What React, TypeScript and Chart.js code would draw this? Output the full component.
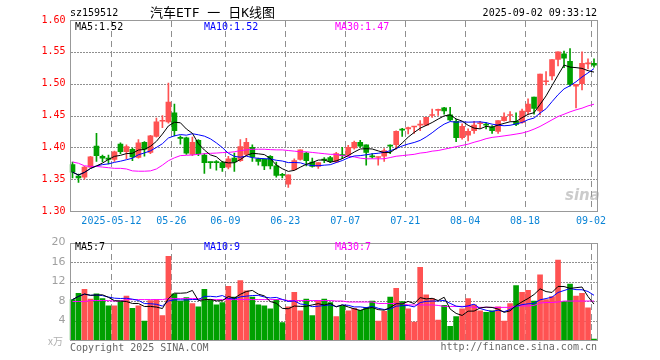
import React, { useEffect, useRef } from 'react';
import { Chart, registerables } from 'chart.js';

Chart.register(...registerables);

// ---------- DATA ----------
const dates = [
  '2025-04-28','2025-04-29','2025-04-30','2025-05-06','2025-05-07','2025-05-08','2025-05-09',
  '2025-05-12','2025-05-13','2025-05-14','2025-05-15','2025-05-16',
  '2025-05-19','2025-05-20','2025-05-21','2025-05-22','2025-05-23',
  '2025-05-26','2025-05-27','2025-05-28','2025-05-29','2025-05-30',
  '2025-06-03','2025-06-04','2025-06-05','2025-06-06',
  '2025-06-09','2025-06-10','2025-06-11','2025-06-12','2025-06-13',
  '2025-06-16','2025-06-17','2025-06-18','2025-06-19','2025-06-20',
  '2025-06-23','2025-06-24','2025-06-25','2025-06-26','2025-06-27',
  '2025-06-30','2025-07-01','2025-07-02','2025-07-03','2025-07-04',
  '2025-07-07','2025-07-08','2025-07-09','2025-07-10','2025-07-11',
  '2025-07-14','2025-07-15','2025-07-16','2025-07-17','2025-07-18',
  '2025-07-21','2025-07-22','2025-07-23','2025-07-24','2025-07-25',
  '2025-07-28','2025-07-29','2025-07-30','2025-07-31','2025-08-01',
  '2025-08-04','2025-08-05','2025-08-06','2025-08-07','2025-08-08',
  '2025-08-11','2025-08-12','2025-08-13','2025-08-14','2025-08-15',
  '2025-08-18','2025-08-19','2025-08-20','2025-08-21','2025-08-22',
  '2025-08-25','2025-08-26','2025-08-27','2025-08-28','2025-08-29',
  '2025-09-01','2025-09-02',
];

const opens = [
  1.373,1.355,1.353,1.369,1.402,1.386,1.383,1.381,1.405,1.393,
  1.397,1.384,1.408,1.392,1.417,1.441,1.440,1.454,1.415,1.415,
  1.389,1.411,1.388,1.377,1.377,1.376,1.369,1.383,1.379,1.389,
  1.400,1.382,1.381,1.386,1.371,1.357,1.342,1.365,1.381,1.391,
  1.377,1.370,1.381,1.384,1.377,1.388,1.388,1.399,1.408,1.404,
  1.386,1.384,1.386,1.403,1.404,1.428,1.429,1.432,1.435,1.435,
  1.450,1.458,1.462,1.451,1.441,1.415,1.419,1.426,1.437,1.435,
  1.432,1.425,1.442,1.450,1.441,1.439,1.456,1.479,1.457,1.503,
  1.512,1.538,1.547,1.535,1.496,1.500,1.531,1.532,
];
const highs = [
  1.377,1.358,1.370,1.386,1.422,1.388,1.388,1.394,1.407,1.404,
  1.399,1.412,1.409,1.419,1.446,1.450,1.501,1.468,1.418,1.416,
  1.416,1.412,1.390,1.377,1.379,1.378,1.386,1.391,1.412,1.414,
  1.404,1.383,1.382,1.387,1.377,1.359,1.357,1.382,1.396,1.392,
  1.383,1.376,1.384,1.386,1.392,1.400,1.403,1.410,1.411,1.404,
  1.390,1.385,1.398,1.404,1.426,1.430,1.432,1.433,1.442,1.447,
  1.460,1.460,1.463,1.463,1.444,1.437,1.429,1.441,1.441,1.439,
  1.434,1.442,1.454,1.456,1.454,1.460,1.476,1.479,1.515,1.519,
  1.538,1.550,1.551,1.555,1.499,1.550,1.539,1.539,
];
const lows = [
  1.352,1.345,1.350,1.368,1.378,1.377,1.374,1.378,1.390,1.382,
  1.379,1.383,1.386,1.390,1.416,1.431,1.438,1.418,1.405,1.389,
  1.387,1.387,1.359,1.367,1.364,1.362,1.366,1.362,1.378,1.387,
  1.378,1.372,1.365,1.366,1.353,1.352,1.337,1.364,1.380,1.371,
  1.369,1.367,1.376,1.376,1.376,1.382,1.386,1.397,1.400,1.372,
  1.383,1.372,1.378,1.390,1.397,1.417,1.421,1.422,1.426,1.434,
  1.447,1.450,1.452,1.442,1.409,1.413,1.410,1.422,1.430,1.429,
  1.422,1.422,1.441,1.442,1.434,1.438,1.452,1.452,1.451,1.498,
  1.506,1.528,1.525,1.496,1.462,1.490,1.523,1.526,
];
const closes = [
  1.361,1.352,1.369,1.385,1.387,1.383,1.381,1.393,1.393,1.401,
  1.385,1.407,1.397,1.418,1.440,1.442,1.471,1.426,1.414,1.391,
  1.408,1.390,1.376,1.376,1.376,1.368,1.382,1.377,1.401,1.408,
  1.385,1.378,1.371,1.371,1.356,1.356,1.357,1.379,1.396,1.379,
  1.370,1.376,1.380,1.378,1.390,1.387,1.400,1.408,1.402,1.392,
  1.385,1.385,1.395,1.402,1.425,1.427,1.431,1.432,1.435,1.447,
  1.450,1.458,1.457,1.443,1.415,1.433,1.425,1.435,1.437,1.435,
  1.426,1.442,1.448,1.450,1.436,1.457,1.468,1.461,1.515,1.503,
  1.538,1.550,1.540,1.499,1.499,1.532,1.532,1.529,
];
// candle colour (true = red / up), needed where open and close are equal at this precision
const upFlags = [
  false,false,true,true,false,false,false,true,false,true,
  false,true,false,true,true,true,true,false,false,false,
  true,false,false,false,false,false,true,false,true,true,
  false,false,false,false,false,false,true,true,true,false,
  false,true,false,false,true,false,true,true,false,false,
  false,true,true,false,true,false,true,true,true,true,
  true,true,false,false,false,true,true,true,true,false,
  false,true,true,true,false,true,true,false,true,true,
  true,true,false,false,true,true,true,false,
];

const volumes = [
  8.3,9.6,10.4,8.4,9.5,8.5,7.0,7.0,8.0,9.0,
  6.5,7.0,3.9,8.1,8.3,5.0,17.2,9.5,8.0,8.7,
  7.5,6.8,10.4,8.3,7.2,7.7,11.0,8.8,12.2,10.1,
  8.8,7.2,7.0,6.4,8.3,3.6,6.8,9.8,6.0,8.4,
  5.0,8.1,8.4,7.7,4.8,7.0,6.0,6.5,6.1,6.7,
  8.0,3.9,5.9,8.8,10.6,7.9,6.4,3.7,14.9,9.3,
  8.5,4.1,7.1,2.8,4.8,6.4,8.5,7.2,6.0,5.7,
  6.0,6.8,3.9,7.5,11.2,9.8,10.2,8.0,13.4,8.3,
  8.9,16.4,7.9,11.5,9.0,9.6,6.6,0.2,
];

// MA30 lines (their windows reach before the first candle)
const priceMA30 = [
  1.377,1.375,1.371,1.370,1.370,1.369,1.368,1.367,1.367,1.366,
  1.363,1.3625,1.3625,1.363,1.366,1.372,1.379,1.3835,1.387,1.3875,
  1.388,1.389,1.390,1.3906,1.391,1.3917,1.392,1.393,1.3948,1.396,
  1.397,1.397,1.397,1.3964,1.396,1.396,1.395,1.394,1.393,1.393,
  1.392,1.391,1.390,1.389,1.389,1.387,1.386,1.385,1.383,1.382,
  1.382,1.382,1.382,1.384,1.386,1.387,1.388,1.389,1.391,1.392,
  1.394,1.395,1.397,1.399,1.401,1.403,1.405,1.408,1.4105,1.4136,
  1.4156,1.4167,1.418,1.4193,1.4208,1.4224,1.425,1.4286,1.4328,1.438,
  1.4432,1.4484,1.452,1.4557,1.4589,1.4615,1.4651,1.4677,
];
const volumeMA30 = [
  7.9,7.9,7.9,8.1,8.1,8.1,8.1,8.0,8.0,8.3,
  8.3,8.3,8.3,8.3,8.3,8.3,8.5,8.5,8.5,8.5,
  8.5,8.5,8.3,8.3,8.3,8.3,8.3,8.3,8.3,8.3,
  8.3,8.3,8.3,8.3,8.3,8.3,8.1,8.1,8.1,8.1,
  8.1,8.1,8.1,8.1,8.0,8.0,7.8,7.8,7.8,7.8,
  7.8,7.5,7.5,7.5,7.5,7.5,7.2,7.2,7.2,7.2,
  7.2,7.1,6.9,6.9,6.9,6.9,6.9,6.7,6.7,6.7,
  6.7,6.7,6.7,6.7,7.0,7.0,7.0,7.1,7.6,7.7,
  7.7,7.8,8.0,8.0,8.0,8.0,8.0,8.0,
];

const tickDates = ['2025-05-12','2025-05-26','2025-06-09','2025-06-23','2025-07-07','2025-07-21','2025-08-04','2025-08-18','2025-09-02'];
const tickTexts = ['2025-05-12','05-26','06-09','06-23','07-07','07-21','08-04','08-18','09-02'];

const priceTicks = [1.30, 1.35, 1.40, 1.45, 1.50, 1.55, 1.60];
const volumeTicks = [0, 4, 8, 12, 16, 20];

const titleCode = 'sz159512';
const titleName = '汽车ETF 一 日K线图';
const timeStamp = '2025-09-02 09:33:12';
const priceLegend = ['MA5:1.52', 'MA10:1.52', 'MA30:1.47'];
const volumeLegend = ['MA5:7', 'MA10:9', 'MA30:7'];

// ---------- STYLE ----------
const RED = '#ff5252';
const GREEN = '#00a000';
const GRID = '#8f8f8f';
const MONO = '"DejaVu Sans Mono", "Liberation Mono", monospace';

function movingAverage(values: number[], n: number): number[] {
  return values.map((_, i) => {
    const s = Math.max(0, i - n + 1);
    const w = values.slice(s, i + 1);
    return w.reduce((a, b) => a + b, 0) / w.length;
  });
}

// grid placed with the chart's own scales, drawn under the marks;
// the frame is drawn after everything.
const makeGridPlugin = (yTicks: number[], xIdx: number[]) => ({
  id: 'customGrid',
  beforeDatasetsDraw(chart: any) {
    const { ctx, chartArea: a, scales } = chart;
    const xs = scales.x;
    const ys = scales.y;
    const L = Math.ceil(a.left);
    const T = Math.round(a.top);
    const R = Math.round(a.right);
    const B = Math.round(a.bottom);
    const step = (R - L) / dates.length;
    ctx.save();
    ctx.fillStyle = GRID;
    for (const v of yTicks) {
      const y = Math.round(ys.getPixelForValue(v));
      if (y <= T || y >= B) continue;
      for (let x = L + 1; x < R; x += 3) ctx.fillRect(x, y, 2, 1);
    }
    for (const i of xIdx) {
      const x = Math.floor(xs.getPixelForValue(i) - step / 2);
      for (let y = T + 1; y < B; y += 10) ctx.fillRect(x, y, 1, Math.min(6, B - y));
    }
    ctx.restore();
  },
  afterDraw(chart: any) {
    const { ctx, chartArea: a } = chart;
    const L = Math.ceil(a.left);
    const T = Math.round(a.top);
    const R = Math.round(a.right);
    const B = Math.round(a.bottom);
    ctx.save();
    ctx.fillStyle = '#999999';
    ctx.fillRect(L, T, R - L + 1, 1);
    ctx.fillRect(L, B, R - L + 1, 1);
    ctx.fillRect(L, T, 1, B - T + 1);
    ctx.fillRect(R, T, 1, B - T + 1);
    ctx.restore();
  },
});

export default function App() {
  const priceRef = useRef<HTMLCanvasElement>(null);
  const volRef = useRef<HTMLCanvasElement>(null);

  useEffect(() => {
    const colors = upFlags.map((u) => (u ? RED : GREEN));
    const tickIdx = new Map<number, string>();
    tickDates.forEach((d, k) => tickIdx.set(dates.indexOf(d), tickTexts[k]));
    const xIdx = Array.from(tickIdx.keys());

    const xScale = (showLabels: boolean) => ({
      type: 'category' as const,
      offset: true,
      grid: { display: false, drawTicks: false },
      border: { display: false },
      ticks: {
        display: showLabels,
        autoSkip: false,
        maxRotation: 0,
        minRotation: 0,
        padding: 4,
        labelOffset: -3,
        color: '#0a84d6',
        font: { family: MONO, size: 10 },
        callback: (_v: any, i: number) => tickIdx.get(i) ?? '',
      },
      afterFit: (s: any) => { s.height = showLabels ? 21 : 0; },
    });

    const priceChart = new Chart(priceRef.current!, {
      type: 'bar',
      data: {
        labels: dates,
        datasets: [
          { type: 'line', data: movingAverage(closes, 5), borderColor: '#000000', borderWidth: 1, pointRadius: 0, order: 0 },
          { type: 'line', data: movingAverage(closes, 10), borderColor: '#0000ff', borderWidth: 1, pointRadius: 0, order: 0 },
          { type: 'line', data: priceMA30, borderColor: '#ff00ff', borderWidth: 1, pointRadius: 0, order: 0 },
          { type: 'bar', data: opens.map((o, i) => [o, closes[i]]), backgroundColor: colors, barThickness: 5, minBarLength: 1, grouped: false, order: 1 } as any,
          { type: 'bar', data: lows.map((l, i) => [l, highs[i]]), backgroundColor: colors, barThickness: 1, grouped: false, order: 2 } as any,
        ],
      },
      options: {
        responsive: false,
        animation: false,
        devicePixelRatio: 1,
        layout: { padding: { top: 20, right: 63, bottom: 0, left: 0 } },
        plugins: { legend: { display: false }, tooltip: { enabled: false } },
        scales: {
          x: xScale(true) as any,
          y: {
            type: 'linear',
            min: 1.3,
            max: 1.6,
            afterBuildTicks: (s: any) => { s.ticks = priceTicks.map((v) => ({ value: v })); },
            ticks: { color: '#ff0000', padding: 4, font: { family: MONO, size: 10 }, callback: (v: any) => Number(v).toFixed(2) },
            grid: { display: false, drawTicks: false },
            border: { display: false },
            afterFit: (s: any) => { s.width = 69.5; },
          },
        },
      },
      plugins: [makeGridPlugin(priceTicks, xIdx)],
    });

    const volChart = new Chart(volRef.current!, {
      type: 'bar',
      data: {
        labels: dates,
        datasets: [
          { type: 'line', data: movingAverage(volumes, 5), borderColor: '#000000', borderWidth: 1, pointRadius: 0, order: 0 },
          { type: 'line', data: movingAverage(volumes, 10), borderColor: '#0000ff', borderWidth: 1, pointRadius: 0, order: 0 },
          { type: 'line', data: volumeMA30, borderColor: '#ff00ff', borderWidth: 1, pointRadius: 0, order: 0 },
          { type: 'bar', data: volumes, backgroundColor: colors, barThickness: 5, order: 1 } as any,
        ],
      },
      options: {
        responsive: false,
        animation: false,
        devicePixelRatio: 1,
        layout: { padding: { top: 8, right: 63, bottom: 20, left: 0 } },
        plugins: { legend: { display: false }, tooltip: { enabled: false } },
        scales: {
          x: xScale(false) as any,
          y: {
            type: 'linear',
            min: 0,
            max: 20,
            afterBuildTicks: (s: any) => { s.ticks = volumeTicks.map((v) => ({ value: v })); },
            ticks: { color: '#a0a0a0', padding: 4, font: { family: '"DejaVu Sans", sans-serif', size: 11 }, callback: (v: any) => (Number(v) === 0 ? '' : String(v)) },
            grid: { display: false, drawTicks: false },
            border: { display: false },
            afterFit: (s: any) => { s.width = 69.5; },
          },
        },
      },
      plugins: [makeGridPlugin(volumeTicks, xIdx)],
    });

    return () => {
      priceChart.destroy();
      volChart.destroy();
    };
  }, []);

  const txt = (left: number, top: number, s: string, color: string, extra: React.CSSProperties = {}) => (
    <span
      style={{
        position: 'absolute', left, top, color, fontFamily: MONO, fontSize: 10,
        lineHeight: '12px', whiteSpace: 'nowrap', ...extra,
      }}
    >
      {s}
    </span>
  );

  return (
    <div style={{ position: 'fixed', left: 0, top: 0, width: 660, height: 360, background: '#ffffff', overflow: 'hidden' }}>
      <canvas ref={priceRef} width={660} height={232} style={{ position: 'absolute', left: 0, top: 0, width: 660, height: 232 }} />
      <canvas ref={volRef} width={660} height={128} style={{ position: 'absolute', left: 0, top: 232, width: 660, height: 128 }} />
      {txt(70, 7, titleCode, '#000000')}
      {txt(150, 5, titleName, '#000000', { fontFamily: '"DejaVu Sans Mono", "Noto Sans CJK SC", monospace', fontSize: 13, lineHeight: '16px' })}
      <span style={{ position: 'absolute', right: 63, top: 7, color: '#000', fontFamily: MONO, fontSize: 10, lineHeight: '12px', whiteSpace: 'nowrap' }}>{timeStamp}</span>
      {txt(75, 21, priceLegend[0], '#000000')}
      {txt(204, 21, priceLegend[1], '#0000ff')}
      {txt(335, 21, priceLegend[2], '#ff00ff')}
      {txt(75, 241, volumeLegend[0], '#000000')}
      {txt(204, 241, volumeLegend[1], '#0000ff')}
      {txt(335, 241, volumeLegend[2], '#ff00ff')}
      {txt(48, 335, 'x万', '#b0b0b0', { fontFamily: '"Noto Sans CJK SC", sans-serif', fontSize: 10 })}
      {txt(70, 342, 'Copyright 2025 SINA.COM', '#666666')}
      <span style={{ position: 'absolute', right: 63, top: 341, color: '#666', fontFamily: MONO, fontSize: 10, lineHeight: '12px', whiteSpace: 'nowrap' }}>http://finance.sina.com.cn</span>
      <span style={{ position: 'absolute', left: 565, top: 186, color: 'rgba(160,160,160,0.55)', fontFamily: '"DejaVu Sans", sans-serif', fontStyle: 'italic', fontWeight: 'bold', fontSize: 15, lineHeight: '18px' }}>sina</span>
    </div>
  );
}
